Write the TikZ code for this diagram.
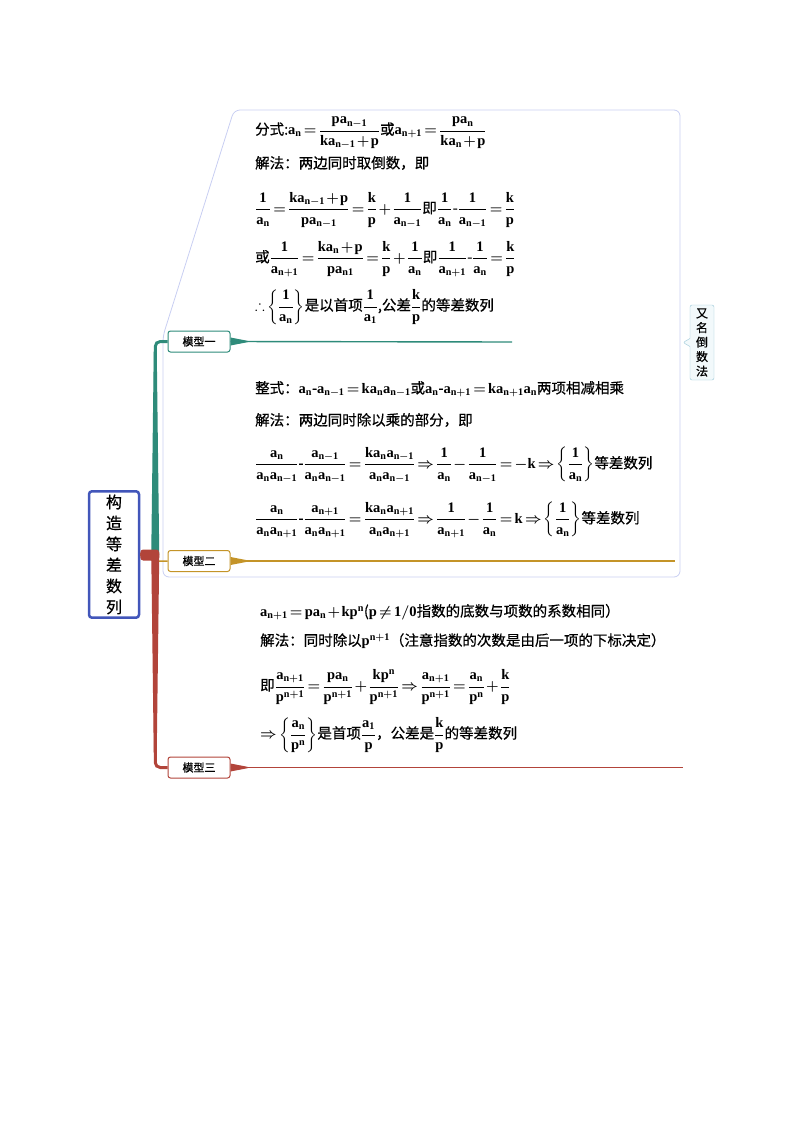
\documentclass[tikz,border=0pt]{standalone}
\usepackage{fontspec}
\usepackage{amsmath, amssymb, xcolor, tikz}
\usetikzlibrary{calc, shapes.callouts}
\newfontfamily\tbfont{Liberation Serif}[NFSSFamily=libserif]
\DeclareMathAlphabet{\mathtb}{TU}{libserif}{bx}{n}
\newfontfamily\cjk[FakeBold=0.6]{Noto Sans CJK SC}
\definecolor{tealbr}{RGB}{46,139,122}
\definecolor{goldbr}{RGB}{196,148,40}
\definecolor{redbr}{RGB}{178,68,58}
\definecolor{rootblue}{RGB}{66,86,186}
\definecolor{summ}{RGB}{200,206,242}
\definecolor{aliasbd}{RGB}{150,196,214}
\definecolor{aliasbg}{RGB}{242,249,251}
\thickmuskip=2.5mu\relax
\medmuskip=1.5mu\relax

\begin{document}
\begin{tikzpicture}[x=1pt,y=-1pt]
\tikzset{ root/.style={draw=rootblue, line width=2.5pt, rounded corners=3pt, fill=white,
                       minimum width=50pt, minimum height=125pt, align=center,
                       font=\cjk\fontsize{16}{21}\selectfont},
          model/.style={draw, line width=1pt, rounded corners=2.5pt, fill=white,
                        minimum width=62pt, minimum height=21pt, inner sep=0pt,
                        font=\cjk\fontsize{11}{13}\selectfont},
          formula/.style={anchor=west, inner sep=0pt, font=\cjk\fontsize{14.5}{16}\selectfont\boldmath} };
\useasboundingbox (0,0) rectangle (800,1132);

% summary frame of models one and two
\draw[summ, line width=0.8pt, rounded corners=6pt] (163,577) -- (163,336) -- (234,110) -- (680,110) -- (680,577) -- cycle;
\node[rectangle callout, callout relative pointer={(-7,0)}, callout pointer width=8pt,
      draw=aliasbd, fill=aliasbg, rounded corners=2pt, align=center, inner sep=2pt,
      minimum width=24pt, minimum height=75pt, font=\cjk\fontsize{12}{14.5}\selectfont] (alias) at (702,342.5) {又\\名\\倒\\数\\法};

\node[root] (root) at (114,554.5) {构\\造\\等\\差\\数\\列};
\node[model, draw=tealbr] (m1) at (199,341.5) {模型一};
\node[model, draw=goldbr] (m2) at (199,561) {模型二};
\node[model, draw=redbr] (m3) at (199,767.5) {模型三};

\coordinate (e1) at (512,342);
\coordinate (e2) at (675,561);
\coordinate (e3) at (683,767.5);

% branches
\draw[tealbr, line width=3pt, rounded corners=5pt] (root.east) -- ++(15,0) |- (m1.west);
\fill[tealbr] ($(root.east)+(11,0)$) -- ($(root.east)+(19,0)$) -- ($(root.east |- m1.west)+(16.5,10)$) -- ($(root.east |- m1.west)+(13.5,10)$) -- cycle;
\draw[goldbr, line width=1.5pt] (root.east) -- ++(14,6.5) -- (m2.west);
\draw[redbr, line width=3pt, rounded corners=5pt] (root.east) -- ++(15,0) |- (m3.west);
\fill[redbr, rounded corners=3pt] ($(root.east)+(0,-5)$) rectangle ($(root.east)+(19,6)$);
\fill[redbr] ($(root.east)+(11,0)$) -- ($(root.east)+(19,0)$) -- ($(root.east |- m3.west)+(16.5,-15)$) -- ($(root.east |- m3.west)+(13.5,-15)$) -- cycle;

\fill[tealbr] ([yshift=-4pt]m1.east) -- ([xshift=17pt,yshift=-0.7pt]m1.east) -- ([xshift=17pt,yshift=0.7pt]m1.east) -- ([yshift=4pt]m1.east) -- cycle;
\draw[tealbr, line width=1.4pt] (m1.east) -- (e1);
\fill[goldbr] ([yshift=-4pt]m2.east) -- ([xshift=17pt,yshift=-0.7pt]m2.east) -- ([xshift=17pt,yshift=0.7pt]m2.east) -- ([yshift=4pt]m2.east) -- cycle;
\draw[goldbr, line width=1.4pt] (m2.east) -- (e2);
\fill[redbr] ([yshift=-4pt]m3.east) -- ([xshift=17pt,yshift=-0.7pt]m3.east) -- ([xshift=17pt,yshift=0.7pt]m3.east) -- ([yshift=4pt]m3.east) -- cycle;
\draw[redbr, line width=1.4pt] (m3.east) -- (e3);

% model one
\node[formula] (L11) at (255,133) {分式:$\mathtb{a_n=\dfrac{pa_{n-1}}{ka_{n-1}+p}}$或$\mathtb{a_{n+1}=\dfrac{pa_n}{ka_n+p}}$};
\node[formula] (L12) at (255,163) {解法：两边同时取倒数，即};
\node[formula] (L13) at (255,210) {$\mathtb{\dfrac{1}{a_n}=\dfrac{ka_{n-1}+p}{pa_{n-1}}=\dfrac{k}{p}+\dfrac{1}{a_{n-1}}}$即$\mathtb{\dfrac{1}{a_n}}$-$\mathtb{\dfrac{1}{a_{n-1}}=\dfrac{k}{p}}$};
\node[formula] (L14) at (255,259) {或$\mathtb{\dfrac{1}{a_{n+1}}=\dfrac{ka_n+p}{pa_{n1}}=\dfrac{k}{p}+\dfrac{1}{a_n}}$即$\mathtb{\dfrac{1}{a_{n+1}}}$-$\mathtb{\dfrac{1}{a_n}=\dfrac{k}{p}}$};
\node[formula] (L15) at (255,307) {$\therefore\mathtb{\left\{\dfrac{1}{a_n}\right\}}$是以首项$\mathtb{\dfrac{1}{a_1}}$,公差$\mathtb{\dfrac{k}{p}}$的等差数列};

% model two
\node[formula] (L21) at (255,389) {整式：$\mathtb{a_n}$-$\mathtb{a_{n-1}=ka_na_{n-1}}$或$\mathtb{a_n}$-$\mathtb{a_{n+1}=ka_{n+1}a_n}$两项相减相乘};
\node[formula] (L22) at (255,420) {解法：两边同时除以乘的部分，即};
\node[formula] (L23) at (255,465) {$\mathtb{\dfrac{a_n}{a_na_{n-1}}}$-$\mathtb{\dfrac{a_{n-1}}{a_na_{n-1}}=\dfrac{ka_na_{n-1}}{a_na_{n-1}}\Rightarrow\dfrac{1}{a_n}-\dfrac{1}{a_{n-1}}=-k\Rightarrow\left\{\dfrac{1}{a_n}\right\}}$等差数列};
\node[formula] (L24) at (255,520) {$\mathtb{\dfrac{a_n}{a_na_{n+1}}}$-$\mathtb{\dfrac{a_{n+1}}{a_na_{n+1}}=\dfrac{ka_na_{n+1}}{a_na_{n+1}}\Rightarrow\dfrac{1}{a_{n+1}}-\dfrac{1}{a_n}=k\Rightarrow\left\{\dfrac{1}{a_n}\right\}}$等差数列};

% model three
\node[formula] (L31) at (260,612) {$\mathtb{a_{n+1}=pa_n+kp^n}$($\mathtb{p\neq1/0}$指数的底数与项数的系数相同）};
\node[formula] (L32) at (260,641) {解法：同时除以$\mathtb{p^{n+1}}$（注意指数的次数是由后一项的下标决定）};
\node[formula] (L33) at (260,687) {即$\mathtb{\dfrac{a_{n+1}}{p^{n+1}}=\dfrac{pa_n}{p^{n+1}}+\dfrac{kp^n}{p^{n+1}}\Rightarrow\dfrac{a_{n+1}}{p^{n+1}}=\dfrac{a_n}{p^n}+\dfrac{k}{p}}$};
\node[formula] (L34) at (260,735) {$\Rightarrow\mathtb{\left\{\dfrac{a_n}{p^n}\right\}}$是首项$\mathtb{\dfrac{a_1}{p}}$，公差是$\mathtb{\dfrac{k}{p}}$的等差数列};

\end{tikzpicture}
\end{document}
